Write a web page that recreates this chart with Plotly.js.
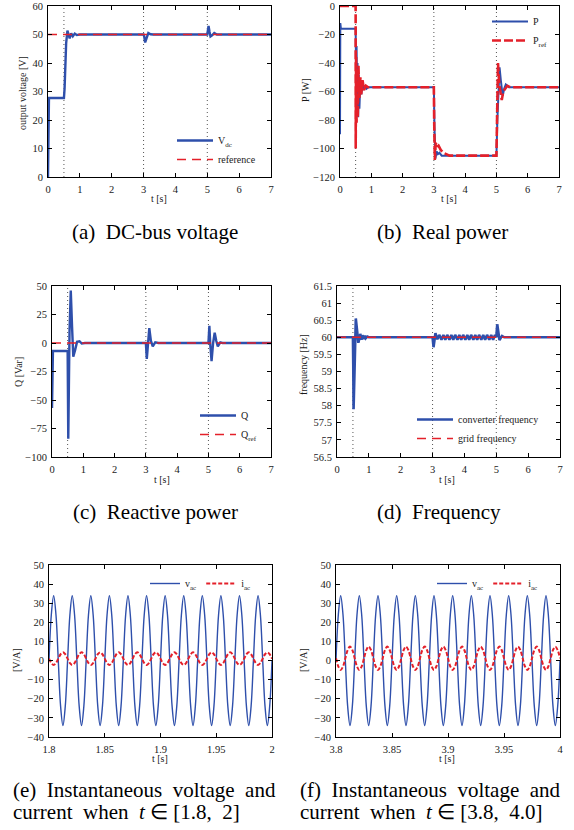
<!DOCTYPE html>
<html><head><meta charset="utf-8">
<script src="https://cdn.plot.ly/plotly-3.0.1.min.js"></script>
<style>html,body{margin:0;padding:0;background:#fff;} #chart{width:574px;height:830px;}</style>
</head><body><div id="chart"></div>
<script>
// ---------------- data ----------------
const eventTimes = [0.5, 3, 5];
const refT = [0, 7];

// (a) DC-bus voltage
const tVdc = [0, 0.01, 0.03, 0.5, 0.52, 0.57, 0.61, 0.64, 0.68, 0.73, 0.78, 0.84, 0.9, 1.0, 3.0, 3.02, 3.05, 3.1, 3.15, 3.22, 3.3, 5.0, 5.02, 5.04, 5.07, 5.1, 5.15, 5.22, 5.3, 5.4, 7];
const vdc  = [0, 26, 27.7, 27.7, 31, 47, 51.4, 50.2, 48.6, 50.4, 49.4, 50.3, 49.8, 50, 50, 49.3, 47.2, 48.9, 50.5, 50.1, 50, 50, 51.8, 53, 51, 49.3, 49.7, 50.5, 50, 50, 50];
const vdcRef = [50, 50];

// (b) Real power
const tP = [0, 0.01, 0.03, 0.5, 0.51, 0.52, 0.53, 0.545, 0.56, 0.58, 0.6, 0.62, 0.65, 0.68, 0.72, 0.76, 0.8, 0.85, 0.9, 1.0, 3.0, 3.02, 3.05, 3.09, 3.13, 3.18, 3.25, 3.35, 5.0, 5.03, 5.07, 5.1, 5.14, 5.2, 5.25, 5.3, 5.4, 7];
const pMeas = [-90, -12, -16, -16, -30, -62, -28, -58, -40, -78, -48, -72, -53, -62, -54, -59, -56, -58, -57, -57, -57, -85, -107, -102, -104, -103, -105, -105, -105, -80, -50, -43, -52, -63, -58, -55, -57, -57];
const tPref = [0, 0.5, 0.502, 0.515, 0.53, 0.55, 0.57, 0.59, 0.62, 0.65, 0.68, 0.72, 0.77, 0.83, 0.9, 3.0, 3.01, 3.03, 3.06, 3.1, 3.15, 3.22, 3.3, 3.4, 3.5, 5.0, 5.02, 5.05, 5.09, 5.13, 5.17, 5.22, 5.28, 5.35, 5.45, 7];
const pRef = [0, 0, -100, -35, -82, -45, -78, -42, -65, -50, -62, -52, -59, -56, -57, -57, -80, -108, -96, -99, -98, -101, -103, -104, -105, -105, -75, -40, -55, -62, -66, -60, -58, -56, -57, -57];

// (c) Reactive power
const tQ = [0, 0.01, 0.03, 0.5, 0.52, 0.56, 0.6, 0.64, 0.68, 0.74, 0.8, 0.88, 0.95, 1.05, 3.0, 3.03, 3.07, 3.11, 3.16, 3.22, 3.3, 3.4, 5.0, 5.03, 5.06, 5.1, 5.15, 5.2, 5.25, 5.3, 5.38, 5.45, 7];
const qMeas = [-57, -8, -7, -7, -84, 10, 46, 15, -12, -6, 1, 1.5, -0.5, 0, 0, -14, 3, 13, 2, -3, 0.5, 0, 0, 15, -2, -16, 0, 9, 2, -3, 0.5, 0, 0];
const qRef = [0, 0];

// (d) Frequency
const tF = [0, 0.5, 0.51, 0.52, 0.55, 0.59, 0.63, 0.67, 0.7, 0.73, 0.77, 0.8, 0.84, 0.87, 0.9, 0.95, 1.0,
  3.0, 3.03, 3.09,
  3.15, 3.21, 3.28, 3.34, 3.4, 3.46, 3.53, 3.59, 3.65, 3.71, 3.78, 3.84, 3.9, 3.96, 4.03, 4.09, 4.15, 4.21, 4.28, 4.34, 4.4, 4.46, 4.53, 4.59, 4.65, 4.71, 4.78, 4.84, 4.9, 4.96,
  5.0, 5.03, 5.1, 5.18, 5.25, 7];
const fConv = [60, 60, 59.2, 57.9, 59.0, 60.55, 60.2, 59.84, 59.95, 60.1, 59.93, 60.06, 59.95, 60.05, 59.97, 60.02, 60,
  60, 59.71, 60.12,
  59.94, 60.07, 59.93, 60.07, 59.93, 60.07, 59.93, 60.07, 59.93, 60.07, 59.93, 60.07, 59.93, 60.07, 59.93, 60.07, 59.93, 60.07, 59.93, 60.07, 59.93, 60.07, 59.93, 60.07, 59.93, 60.07, 59.93, 60.07, 59.93, 60.07,
  60, 60.38, 59.92, 60.04, 60, 60];
const fGrid = [60, 60];

// (e), (f) instantaneous voltage / current, sampled every 1/480 s
const acStartE = 1.8, acStartF = 3.8, acStep = 1 / 480;
const vacE = [
  0,24,34,24,0,-24,-34,-24, 0,24,34,24,0,-24,-34,-24, 0,24,34,24,0,-24,-34,-24,
  0,24,34,24,0,-24,-34,-24, 0,24,34,24,0,-24,-34,-24, 0,24,34,24,0,-24,-34,-24,
  0,24,34,24,0,-24,-34,-24, 0,24,34,24,0,-24,-34,-24, 0,24,34,24,0,-24,-34,-24,
  0,24,34,24,0,-24,-34,-24, 0,24,34,24,0,-24,-34,-24, 0,24,34,24,0,-24,-34,-24, 0];
const iacE = [
  1,-1.3,-2.3,-1.3,1,3.3,4.3,3.3, 1,-1.3,-2.3,-1.3,1,3.3,4.3,3.3, 1,-1.3,-2.3,-1.3,1,3.3,4.3,3.3,
  1,-1.3,-2.3,-1.3,1,3.3,4.3,3.3, 1,-1.3,-2.3,-1.3,1,3.3,4.3,3.3, 1,-1.3,-2.3,-1.3,1,3.3,4.3,3.3,
  1,-1.3,-2.3,-1.3,1,3.3,4.3,3.3, 1,-1.3,-2.3,-1.3,1,3.3,4.3,3.3, 1,-1.3,-2.3,-1.3,1,3.3,4.3,3.3,
  1,-1.3,-2.3,-1.3,1,3.3,4.3,3.3, 1,-1.3,-2.3,-1.3,1,3.3,4.3,3.3, 1,-1.3,-2.3,-1.3,1,3.3,4.3,3.3, 1];
const vacF = [
  0,24,34,24,0,-24,-34,-24, 0,24,34,24,0,-24,-34,-24, 0,24,34,24,0,-24,-34,-24,
  0,24,34,24,0,-24,-34,-24, 0,24,34,24,0,-24,-34,-24, 0,24,34,24,0,-24,-34,-24,
  0,24,34,24,0,-24,-34,-24, 0,24,34,24,0,-24,-34,-24, 0,24,34,24,0,-24,-34,-24,
  0,24,34,24,0,-24,-34,-24, 0,24,34,24,0,-24,-34,-24, 0,24,34,24,0,-24,-34,-24, 0];
const iacF = [
  1.2,-3.1,-4.9,-3.1,1.2,5.5,7.3,5.5, 1.2,-3.1,-4.9,-3.1,1.2,5.5,7.3,5.5, 1.2,-3.1,-4.9,-3.1,1.2,5.5,7.3,5.5,
  1.2,-3.1,-4.9,-3.1,1.2,5.5,7.3,5.5, 1.2,-3.1,-4.9,-3.1,1.2,5.5,7.3,5.5, 1.2,-3.1,-4.9,-3.1,1.2,5.5,7.3,5.5,
  1.2,-3.1,-4.9,-3.1,1.2,5.5,7.3,5.5, 1.2,-3.1,-4.9,-3.1,1.2,5.5,7.3,5.5, 1.2,-3.1,-4.9,-3.1,1.2,5.5,7.3,5.5,
  1.2,-3.1,-4.9,-3.1,1.2,5.5,7.3,5.5, 1.2,-3.1,-4.9,-3.1,1.2,5.5,7.3,5.5, 1.2,-3.1,-4.9,-3.1,1.2,5.5,7.3,5.5, 1.2];

// ---------------- style ----------------
const W = 574, H = 830;
const serif = 'Liberation Serif, Times New Roman, Times, serif';
const blue = '#2e4fab', red = '#e4202a', txt = '#1a1a1a';
const px = v => v / W, py = v => 1 - v / H;

function line(x, y, ax, name, leg, style) {
  return Object.assign({x: x, y: y, xaxis: 'x' + ax, yaxis: 'y' + ax, mode: 'lines', name: name,
    legend: leg, hoverinfo: 'skip'}, style);
}
const blueSolid = w => ({line: {color: blue, width: w}});
const redDash = (w, d) => ({line: {color: red, width: w, dash: d}});

const data = [
  line(tVdc, vdc, '', 'V<sub>dc</sub>', 'legend', blueSolid(2.4)),
  line(refT, vdcRef, '', 'reference', 'legend', redDash(1.4, '9px,6px')),
  line(tP, pMeas, '2', 'P', 'legend2', blueSolid(2)),
  line(tPref, pRef, '2', 'P<sub>ref</sub>', 'legend2', redDash(2.6, '9px,3px')),
  line(tQ, qMeas, '3', 'Q', 'legend3', blueSolid(2.4)),
  line(refT, qRef, '3', 'Q<sub>ref</sub>', 'legend3', redDash(1.4, '9px,6px')),
  line(tF, fConv, '4', 'converter frequency', 'legend4', blueSolid(2.6)),
  line(refT, fGrid, '4', 'grid frequency', 'legend4', redDash(1.4, '9px,6px')),
  Object.assign(line(null, vacE, '5', 'v<sub>ac</sub>', 'legend5', {line: {color: blue, width: 1.4, shape: 'spline', smoothing: 1}}), {x0: acStartE, dx: acStep}),
  Object.assign(line(null, iacE, '5', 'i<sub>ac</sub>', 'legend5', {line: {color: red, width: 2, dash: '4px,2px', shape: 'spline', smoothing: 1}}), {x0: acStartE, dx: acStep}),
  Object.assign(line(null, vacF, '6', 'v<sub>ac</sub>', 'legend6', {line: {color: blue, width: 1.4, shape: 'spline', smoothing: 1}}), {x0: acStartF, dx: acStep}),
  Object.assign(line(null, iacF, '6', 'i<sub>ac</sub>', 'legend6', {line: {color: red, width: 2, dash: '4px,2px', shape: 'spline', smoothing: 1}}), {x0: acStartF, dx: acStep})
];
data.forEach(t => { if (t.x === null) delete t.x; });

function axis(extra) {
  return Object.assign({showline: true, mirror: 'allticks', linecolor: '#000', linewidth: 1,
    ticks: 'inside', ticklen: 4, tickcolor: '#000', tickwidth: 1, showgrid: false, zeroline: false,
    tickfont: {family: serif, size: 10.5, color: txt}, fixedrange: true, ticklabelstandoff: 2}, extra);
}

const layout = {
  width: W, height: H, margin: {l: 0, r: 0, t: 0, b: 0},
  paper_bgcolor: '#fff', plot_bgcolor: '#fff', showlegend: true,
  font: {family: serif, color: txt},
  xaxis:  axis({domain: [px(48), px(271)],  range: [0, 7], tick0: 0, dtick: 1, anchor: 'y'}),
  yaxis:  axis({domain: [py(177), py(6)],   range: [0, 60], tick0: 0, dtick: 10, anchor: 'x'}),
  xaxis2: axis({domain: [px(340), px(559)], range: [0, 7], tick0: 0, dtick: 1, anchor: 'y2'}),
  yaxis2: axis({domain: [py(177), py(6)],   range: [-120, 0], tick0: 0, dtick: 20, anchor: 'x2'}),
  xaxis3: axis({domain: [px(52), px(271)],  range: [0, 7], tick0: 0, dtick: 1, anchor: 'y3'}),
  yaxis3: axis({domain: [py(457), py(286)], range: [-100, 50], tick0: 0, dtick: 25, anchor: 'x3'}),
  xaxis4: axis({domain: [px(337), px(560)], range: [0, 7], tick0: 0, dtick: 1, anchor: 'y4'}),
  yaxis4: axis({domain: [py(457), py(286)], range: [56.5, 61.5], tick0: 56.5, dtick: 0.5, anchor: 'x4'}),
  xaxis5: axis({domain: [px(49), px(272)],  range: [1.8, 2], tick0: 1.8, dtick: 0.05, anchor: 'y5'}),
  yaxis5: axis({domain: [py(737), py(565)], range: [-40, 50], tick0: 0, dtick: 10, anchor: 'x5'}),
  xaxis6: axis({domain: [px(336), px(560)], range: [3.8, 4], tick0: 3.8, dtick: 0.05, anchor: 'y6'}),
  yaxis6: axis({domain: [py(737), py(565)], range: [-40, 50], tick0: 0, dtick: 10, anchor: 'x6'}),
  shapes: [],
  annotations: []
};

const legBase = {bgcolor: 'rgba(0,0,0,0)', borderwidth: 0, font: {family: serif, size: 10, color: txt},
  xanchor: 'left', yanchor: 'top', xref: 'paper', yref: 'paper', tracegroupgap: 0, itemclick: false, itemwidth: 36};
layout.legend  = Object.assign({}, legBase, {x: px(172), y: py(126)});
layout.legend2 = Object.assign({}, legBase, {x: px(487), y: py(7)});
layout.legend3 = Object.assign({}, legBase, {x: px(195), y: py(401)});
layout.legend4 = Object.assign({}, legBase, {x: px(412), y: py(405)});
layout.legend5 = Object.assign({}, legBase, {x: px(145), y: py(569), orientation: 'h', itemwidth: 30});
layout.legend6 = Object.assign({}, legBase, {x: px(432), y: py(569), orientation: 'h', itemwidth: 30});

// event markers (dotted verticals)
['', '2', '3', '4'].forEach(ax => eventTimes.forEach(t => layout.shapes.push({
  type: 'line', xref: 'x' + ax, yref: 'y' + ax + ' domain', x0: t, x1: t, y0: 0, y1: 1,
  layer: 'below', line: {color: '#555', width: 1, dash: '1px,3px'}
})));

function note(text, x, y, opts) {
  layout.annotations.push(Object.assign({text: text, xref: 'paper', yref: 'paper', x: px(x), y: py(y),
    xanchor: 'center', yanchor: 'middle', showarrow: false, font: {family: serif, size: 10, color: txt}}, opts || {}));
}
// axis titles
note('output voltage [V]', 22, 93, {textangle: -90});
note('P [W]', 305, 90, {textangle: -90});
note('Q [Var]', 18, 372, {textangle: -90});
note('frequency [Hz]', 304, 365, {textangle: -90});
note('[V/A]', 16, 660, {textangle: -90});
note('[V/A]', 303, 660, {textangle: -90});
note('t [s]', 159, 199); note('t [s]', 449, 199);
note('t [s]', 162, 479); note('t [s]', 447, 479);
note('t [s]', 160, 758); note('t [s]', 447, 758);
// captions
const cap = {font: {family: serif, size: 21, color: '#000'}};
note('(a)  DC-bus voltage', 155, 232, cap);
note('(b)  Real power', 442, 232, cap);
note('(c)  Reactive power', 155, 512, cap);
note('(d)  Frequency', 439, 512, cap);
const capL = {font: {family: serif, size: 21, color: '#000'}, xanchor: 'left'};
note('(e)  Instantaneous  voltage  and', 11, 790, capL);
note('current  when  <i>t</i> ∈ [1.8,  2]', 11, 812, capL);
note('(f)  Instantaneous  voltage  and', 298, 790, capL);
note('current  when  <i>t</i> ∈ [3.8,  4.0]', 298, 812, capL);

Plotly.newPlot('chart', data, layout, {staticPlot: true, displayModeBar: false});
</script>
</body></html>
